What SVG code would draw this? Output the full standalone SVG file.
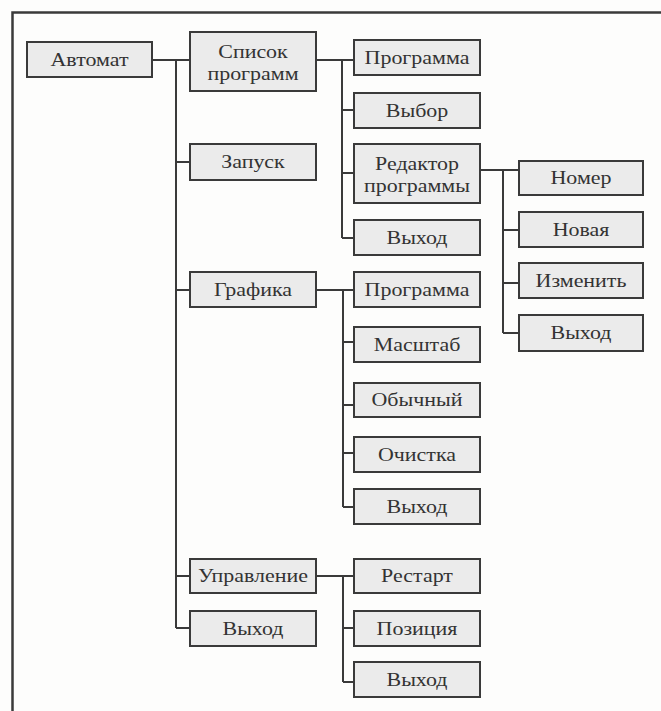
<svg xmlns="http://www.w3.org/2000/svg" width="661" height="711" viewBox="0 0 661 711">
<style>
.n rect{fill:#ebebeb;stroke:#3a3a3a;stroke-width:2}
.n text{font-family:"Liberation Serif","Times New Roman",serif;font-size:18px;fill:#333;text-anchor:middle}
.c{fill:none;stroke:#3a3a3a;stroke-width:2}
.f{fill:none;stroke:#3a3a3a;stroke-width:2.5}
</style>
<rect width="661" height="711" fill="#fdfdfc"/>
<path class="f" d="M12.5,711 V12.5 H661"/>
<g id="connectors" class="c">
<path d="M152,60 H190 M176,60 V628 M176,162 H190 M176,290 H190 M176,576 H190 M176,628 H190"/>
<path d="M316,60 H354 M342,60 V238 M342,110 H354 M342,173 H354 M342,238 H354"/>
<path d="M480,170 H519 M503,170 V333 M503,230 H519 M503,283 H519 M503,333 H519"/>
<path d="M316,290 H354 M343,290 V507 M343,342 H354 M343,405 H354 M343,453 H354 M343,507 H354"/>
<path d="M316,576 H354 M343,576 V682 M343,628 H354 M343,682 H354"/>
</g>
<g id="avtomat" class="n"><rect x="27" y="42" width="125" height="35"/><text transform="translate(89.5,65.5) scale(1.22,1)">Автомат</text></g>
<g id="spisok" class="n"><rect x="190" y="32" width="126" height="59"/><text transform="translate(253,58) scale(1.22,1)">Список</text><text transform="translate(253,80) scale(1.22,1)">программ</text></g>
<g id="zapusk" class="n"><rect x="190" y="144" width="126" height="36"/><text transform="translate(253,168) scale(1.22,1)">Запуск</text></g>
<g id="grafika" class="n"><rect x="190" y="272" width="126" height="35"/><text transform="translate(253,295.5) scale(1.22,1)">Графика</text></g>
<g id="upravlenie" class="n"><rect x="190" y="559" width="126" height="34"/><text transform="translate(253,582) scale(1.22,1)">Управление</text></g>
<g id="vyhod1" class="n"><rect x="190" y="611" width="126" height="35"/><text transform="translate(253,634.5) scale(1.22,1)">Выход</text></g>
<g id="programma1" class="n"><rect x="354" y="40" width="126" height="35"/><text transform="translate(417,63.5) scale(1.22,1)">Программа</text></g>
<g id="vybor" class="n"><rect x="354" y="93" width="126" height="35"/><text transform="translate(417,116.5) scale(1.22,1)">Выбор</text></g>
<g id="redaktor" class="n"><rect x="354" y="144" width="126" height="59"/><text transform="translate(417,170) scale(1.22,1)">Редактор</text><text transform="translate(417,192) scale(1.22,1)">программы</text></g>
<g id="vyhod2" class="n"><rect x="354" y="220" width="126" height="35"/><text transform="translate(417,243.5) scale(1.22,1)">Выход</text></g>
<g id="nomer" class="n"><rect x="519" y="161" width="124" height="34"/><text transform="translate(581,184) scale(1.22,1)">Номер</text></g>
<g id="novaya" class="n"><rect x="519" y="212" width="124" height="35"/><text transform="translate(581,235.5) scale(1.22,1)">Новая</text></g>
<g id="izmenit" class="n"><rect x="519" y="263" width="124" height="35"/><text transform="translate(581,286.5) scale(1.22,1)">Изменить</text></g>
<g id="vyhod3" class="n"><rect x="519" y="315" width="124" height="36"/><text transform="translate(581,339) scale(1.22,1)">Выход</text></g>
<g id="programma2" class="n"><rect x="354" y="272" width="126" height="35"/><text transform="translate(417,295.5) scale(1.22,1)">Программа</text></g>
<g id="masshtab" class="n"><rect x="354" y="327" width="126" height="35"/><text transform="translate(417,350.5) scale(1.22,1)">Масштаб</text></g>
<g id="obychny" class="n"><rect x="354" y="383" width="126" height="34"/><text transform="translate(417,406) scale(1.22,1)">Обычный</text></g>
<g id="ochistka" class="n"><rect x="354" y="437" width="126" height="35"/><text transform="translate(417,460.5) scale(1.22,1)">Очистка</text></g>
<g id="vyhod4" class="n"><rect x="354" y="489" width="126" height="35"/><text transform="translate(417,512.5) scale(1.22,1)">Выход</text></g>
<g id="restart" class="n"><rect x="354" y="559" width="126" height="34"/><text transform="translate(417,582) scale(1.22,1)">Рестарт</text></g>
<g id="poziciya" class="n"><rect x="354" y="611" width="126" height="35"/><text transform="translate(417,634.5) scale(1.22,1)">Позиция</text></g>
<g id="vyhod5" class="n"><rect x="354" y="662" width="126" height="35"/><text transform="translate(417,685.5) scale(1.22,1)">Выход</text></g>
</svg>
